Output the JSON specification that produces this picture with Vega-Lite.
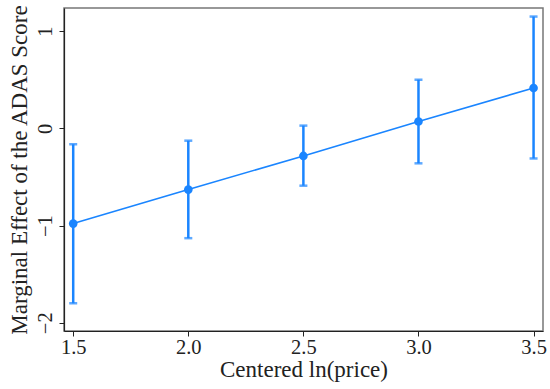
{
  "$schema": "https://vega.github.io/schema/vega-lite/v6.json",
  "autosize": "none",
  "width": 479,
  "height": 323,
  "padding": {"left": 64, "top": 8, "right": 7, "bottom": 58},
  "background": "white",
  "config": {
    "font": "Times New Roman, Liberation Serif, serif",
    "view": {"stroke": "#777777", "strokeWidth": 1.5},
    "axis": {"grid": false, "domainColor": "#222222", "tickColor": "#222222", "labelColor": "#222222", "titleColor": "#222222", "labelFont": "Times New Roman, Liberation Serif, serif", "titleFont": "Times New Roman, Liberation Serif, serif", "titleFontWeight": "normal", "labelFontSize": 20.5, "titleFontSize": 23, "tickSize": 5, "domainWidth": 1.2}
  },
  "data": {"values": [
    {"x": 1.5, "y": -0.98, "lo": -1.80, "hi": -0.164},
    {"x": 2.0, "y": -0.63, "lo": -1.13, "hi": -0.127},
    {"x": 2.5, "y": -0.284, "lo": -0.59, "hi": 0.028},
    {"x": 3.0, "y": 0.07, "lo": -0.36, "hi": 0.50},
    {"x": 3.5, "y": 0.415, "lo": -0.31, "hi": 1.15}
  ]},
  "encoding": {
    "x": {"field": "x", "type": "quantitative", "scale": {"domain": [1.46, 3.541], "nice": false, "zero": false},
      "axis": {"values": [1.5, 2.0, 2.5, 3.0, 3.5], "format": ".1f", "title": "Centered ln(price)", "labelPadding": 1, "titlePadding": 1}}
  },
  "layer": [
    {
      "mark": {"type": "errorbar", "ticks": {"size": 8, "thickness": 2.5, "color": "#1a85ff"}, "rule": {"strokeWidth": 2.5, "color": "#1a85ff"}},
      "encoding": {
        "y": {"field": "lo", "type": "quantitative", "scale": {"domain": [-2.085, 1.238], "nice": false, "zero": false},
          "axis": {"values": [-2, -1, 0, 1], "format": "d", "title": "Marginal Effect of the ADAS Score", "labelAngle": -90, "labelAlign": "center", "labelBaseline": "bottom", "labelPadding": 4, "titlePadding": 4}},
        "y2": {"field": "hi"}
      }
    },
    {
      "mark": {"type": "line", "color": "#1a85ff", "strokeWidth": 1.6},
      "encoding": {"y": {"field": "y", "type": "quantitative"}}
    },
    {
      "mark": {"type": "point", "filled": true, "opacity": 1, "color": "#1a85ff", "size": 75},
      "encoding": {"y": {"field": "y", "type": "quantitative"}}
    }
  ]
}
